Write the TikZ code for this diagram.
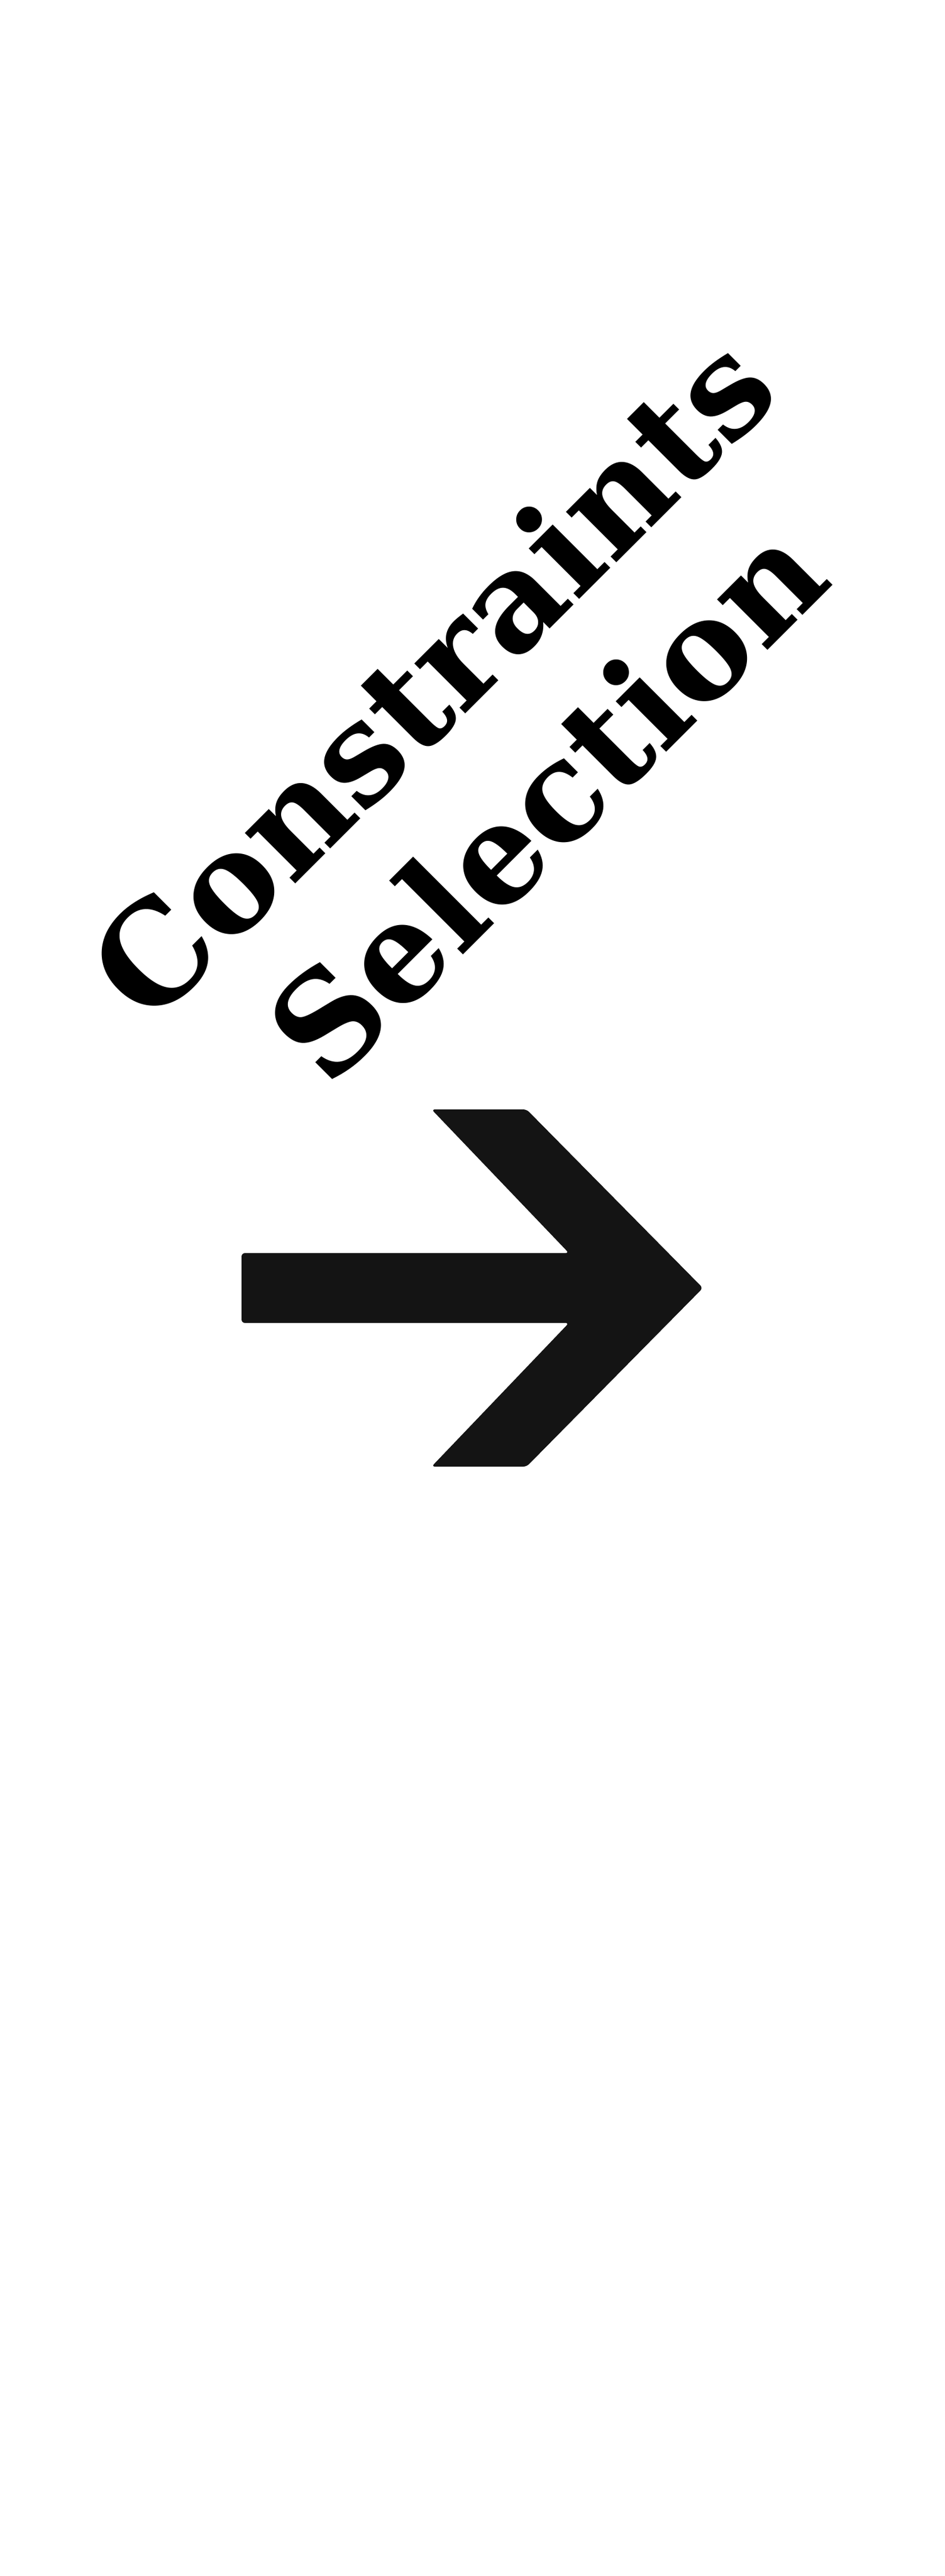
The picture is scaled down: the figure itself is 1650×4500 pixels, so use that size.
\documentclass[tikz,border=0pt]{standalone}
\usepackage{fontspec}
\newfontfamily\lblfont{DejaVu Serif}[UprightFont={* Bold}]
\definecolor{arrowgray}{HTML}{141414}
\begin{document}
\begin{tikzpicture}[x=1pt,y=-1pt,
  label/.style={rotate=45,inner sep=0pt,font=\fontsize{240}{288}\selectfont\lblfont},
  bigarrow/.style={fill=arrowgray,draw=none,rounded corners=6pt}]
\useasboundingbox (0,0) rectangle (1650,4500);
\fill[white] (0,0) rectangle (1650,4500);
\node[label] (l1) at (752,1181) {Constraints};
\node[label] (l2) at (953,1398) {Selection};
\path[bigarrow] (422,2189) -- (994,2189) -- (754,1938) -- (920,1938) -- (1228,2250)
  -- (920,2562) -- (754,2562) -- (994,2311) -- (422,2311) -- cycle;
\end{tikzpicture}
\end{document}
